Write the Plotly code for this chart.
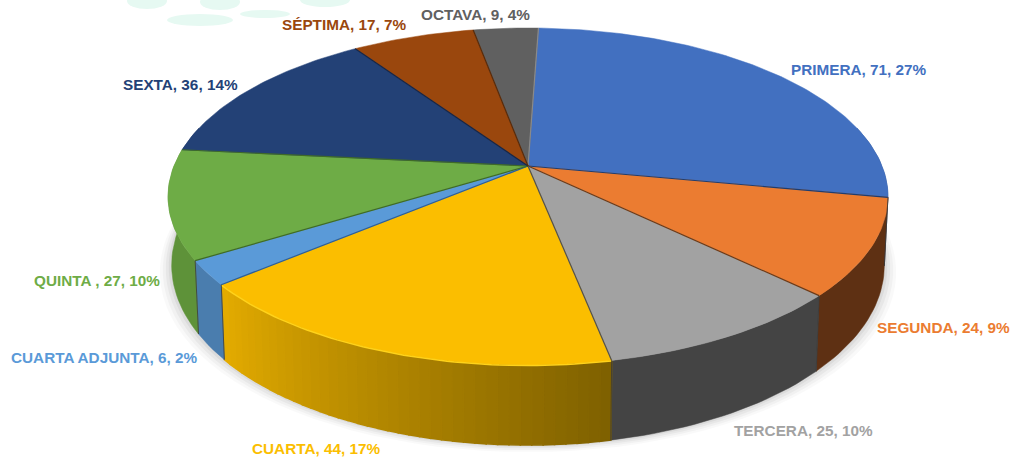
import math
import plotly.graph_objects as go

categories = ["PRIMERA", "SEGUNDA", "TERCERA", "CUARTA", "CUARTA ADJUNTA", "QUINTA ", "SEXTA", "SÉPTIMA", "OCTAVA"]
values = [71, 24, 25, 44, 6, 27, 36, 17, 9]
percents = [27, 9, 10, 17, 2, 10, 14, 7, 4]

top_colors = ["#4270C0", "#EB7C31", "#A2A2A2", "#FBBE00", "#5A9AD8", "#6EAC46", "#234176", "#9A470D", "#606060"]
wall_colors = ["#2F5597", "#5E3013", "#444444", None, "#4A7DAE", "#5E9239", "#1B3160", "#6E3209", "#444444"]
edge_colors = ["#8A8A8A", "#1F3D70", "#6E3A16", "#505050", "#2F5F95", "#3F6A28", "#3F6A28", "#13264A", "#5A2A08"]
label_xy = [(859, 69), (943, 327), (803, 430), (316, 448), (104, 357), (97, 280), (180, 84), (344, 24), (475, 14)]

CX, CY, B, A, K = 528.0, 166.0, 354.0, 163.0, 0.181
START = 2.0


def top(theta):
    t = math.radians(theta)
    u, v = math.sin(t), -math.cos(t)
    d = 1 - K * v
    return CX + B * u / d, CY + A * v / d, v


def bottom(theta):
    x, y, v = top(theta)
    return CX + 0.99 * (x - CX), y + 66 + 14 * v


def arange(a, b, step=1.0):
    n = max(2, int((b - a) / step) + 1)
    return [a + (b - a) * i / (n - 1) for i in range(n)]


def mix(c1, c2, f):
    a = [int(c1[i:i + 2], 16) for i in (1, 3, 5)]
    b = [int(c2[i:i + 2], 16) for i in (1, 3, 5)]
    return "#%02X%02X%02X" % tuple(round(p + (q - p) * f) for p, q in zip(a, b))


def poly(xs, ys, color, line=0):
    return go.Scatter(x=xs, y=ys, mode="lines", fill="toself", fillcolor=color,
                      line=dict(color=color, width=line), hoverinfo="skip", showlegend=False)


fig = go.Figure()

# faint mint marks from the backdrop
for bx, by, bw, bh in [(127, 1, 40, 8), (167, 20, 66, 6), (200, 2, 40, 8), (300, 0, 50, 7), (240, 14, 50, 4)]:
    fig.add_shape(type="circle", x0=bx, x1=bx + bw, y0=by - bh, y1=by + bh,
                  fillcolor="#E6F9F2", line_width=0, layer="below")

# soft shadow under the pie
ring = arange(0, 360, 3)
for grow, alpha in [(12, 0.025), (9, 0.03), (6, 0.04), (3, 0.05)]:
    sx, sy = [], []
    for th in ring:
        x, y = bottom(th)
        sx.append(CX + (x - CX) * (1 + grow / 360))
        sy.append(y + grow * 0.6)
    fig.add_trace(poly(sx, sy, f"rgba(0,0,0,{alpha})"))

total = sum(values)
angles = [START]
for val in values:
    angles.append(angles[-1] + val / total * 360)

# side walls
for i in range(len(values)):
    a0, a1 = angles[i], angles[i + 1]
    lo, hi = max(a0, 76), min(a1, 284)
    if hi <= lo:
        continue
    steps = arange(lo, hi, 1.5)
    if wall_colors[i] is None:
        for s0, s1 in zip(steps[:-1], steps[1:]):
            x0, y0, _ = top(s0)
            x1, y1, _ = top(s1)
            bx0, by0 = bottom(s0)
            bx1, by1 = bottom(s1)
            f = ((s0 + s1) / 2 - a0) / (a1 - a0)
            col = mix("#7E6000", "#E4AC00", f)
            fig.add_trace(poly([x0, x1, bx1, bx0, x0], [y0, y1, by1, by0, y0], col, 1.6))
    else:
        rim = [top(s) for s in steps]
        low = [bottom(s) for s in reversed(steps)]
        xs = [p[0] for p in rim] + [p[0] for p in low] + [rim[0][0]]
        ys = [p[1] for p in rim] + [p[1] for p in low] + [rim[0][1]]
        fig.add_trace(poly(xs, ys, wall_colors[i], 0.5))

# wedge faces
for i in range(len(values)):
    pts = [top(t) for t in arange(angles[i], angles[i + 1])]
    xs = [CX] + [p[0] for p in pts] + [CX]
    ys = [CY] + [p[1] for p in pts] + [CY]
    fig.add_trace(poly(xs, ys, top_colors[i], 0.5))

# highlight along the front rim of the yellow wedge
pts = [top(t) for t in arange(angles[3], angles[4])]
fig.add_trace(go.Scatter(x=[p[0] for p in pts], y=[p[1] + 0.5 for p in pts], mode="lines",
                         line=dict(color="#FFD21A", width=1.5), hoverinfo="skip", showlegend=False))

# seams between wedges
for i, a in enumerate(angles[:-1]):
    x, y, _ = top(a)
    fig.add_trace(go.Scatter(x=[CX, x], y=[CY, y], mode="lines",
                             line=dict(color=edge_colors[i], width=1.2), hoverinfo="skip", showlegend=False))
    if 90 < a < 262:
        bx, by = bottom(a)
        fig.add_trace(go.Scatter(x=[x, bx], y=[y, by], mode="lines",
                                 line=dict(color="#3A3A3A", width=0.8), hoverinfo="skip", showlegend=False))

for cat, val, pct, col, (lx, ly) in zip(categories, values, percents, top_colors, label_xy):
    fig.add_annotation(x=lx, y=ly, text=f"<b>{cat}, {val}, {pct}%</b>", showarrow=False,
                       font=dict(family="Liberation Sans", size=15.3, color=col),
                       xanchor="center", yanchor="middle")

fig.update_layout(width=1015, height=457, margin=dict(l=0, r=0, t=0, b=0),
                  paper_bgcolor="white", plot_bgcolor="white", showlegend=False,
                  xaxis=dict(range=[0, 1015], visible=False, fixedrange=True),
                  yaxis=dict(range=[457, 0], visible=False, fixedrange=True))

fig.write_html("out.html", config=dict(displayModeBar=False),
               post_script="document.body.style.margin='0';document.body.style.overflow='hidden';")
